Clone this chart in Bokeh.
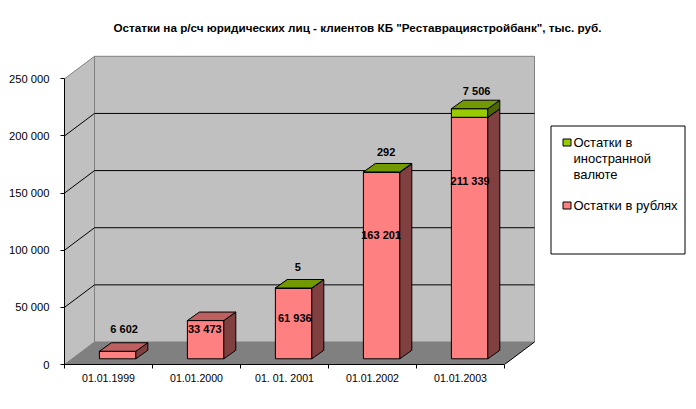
from bokeh.plotting import figure
from bokeh.models import Range1d, FixedTicker, BoxAnnotation, Label
from bokeh.core.properties import value
from bokeh.embed import file_html
from bokeh.resources import INLINE

title = 'Остатки на р/сч юридических лиц - клиентов КБ "Реставрациястройбанк", тыс. руб.'
categories = ["01.01.1999", "01.01.2000", "01. 01. 2001", "01.01.2002", "01.01.2003"]
rub = [6602, 33473, 61936, 163201, 211339]
fx = [0, 0, 5, 292, 7506]
rub_labels = ["6 602", "33 473", "61 936", "163 201", "211 339"]
fx_labels = ["", "", "5", "292", "7 506"]
y_ticks = [0, 50000, 100000, 150000, 200000, 250000]
y_tick_labels = ["0", "50 000", "100 000", "150 000", "200 000", "250 000"]
fx_name_lines = ["Остатки в", "иностранной", "валюте"]
rub_name = "Остатки в рублях"

# projection constants (pixel geometry of the oblique view)
PX_X = 88.0
PX_Y = 57.14 / 50000
WALL_DX, WALL_DY = 30 / PX_X, 22.5 / PX_Y
BAR_DX, BAR_DY = 12 / PX_X, 8.5 / PX_Y
BAR_X0, BAR_W = 34.9 / PX_X, 36.4 / PX_X
BAR_BASE = 5.7 / PX_Y
FONT = "Liberation Sans"

# pixel offsets of the hand-placed data labels, from the bar's front-top centre
rub_off_x = [6.5, -0.8, 1.2, -0.5, 0.5]
rub_off_y = [-21.8, 8, 29.5, 63, 64]
fx_off_x = [0, 0, 4.2, 4.5, 7]
fx_off_y = [0, 0, -21.5, -19.5, -18]

W, H = 690, 405
LEFT, TOP, BOTTOM = 64, 50, 41
frame_w, frame_h = W - LEFT, H - TOP - BOTTOM

p = figure(width=W, height=H, output_backend="svg", toolbar_location=None,
           x_range=Range1d(0, frame_w / PX_X), y_range=Range1d(0, frame_h / PX_Y),
           min_border_left=LEFT, min_border_right=0, min_border_top=TOP, min_border_bottom=BOTTOM,
           title=title)
p.outline_line_color = None
p.background_fill_color = "white"
p.border_fill_color = "white"
p.grid.visible = False
p.title.text_font = FONT
p.title.text_font_size = "11.7px"
p.title.text_font_style = "bold"
p.title.text_color = "black"
p.title.align = "left"
p.title.offset = 49
p.title.standoff = 33

N = len(categories)
TOPV = y_ticks[-1]
# walls and floor
p.patch([0, WALL_DX, WALL_DX, 0], [0, WALL_DY, TOPV + WALL_DY, TOPV], fill_color="#C0C0C0", line_color="#808080")
p.patch([WALL_DX, N + WALL_DX, N + WALL_DX, WALL_DX], [WALL_DY, WALL_DY, TOPV + WALL_DY, TOPV + WALL_DY],
        fill_color="#C0C0C0", line_color="#808080")
p.patch([0, N, N + WALL_DX, WALL_DX], [0, 0, WALL_DY, WALL_DY], fill_color="#808080", line_color=None)
p.line([N, N + WALL_DX], [0, WALL_DY], line_color="black")
# gridlines
gx, gy = [], []
for t in y_ticks[1:-1]:
    gx.append([0, WALL_DX, N + WALL_DX])
    gy.append([t, t + WALL_DY, t + WALL_DY])
p.multi_line(gx, gy, line_color="black", line_width=1)


def faces(i, v0, v1):
    x0 = i + BAR_X0
    x1 = x0 + BAR_W
    y0, y1 = BAR_BASE + v0, BAR_BASE + v1
    front = ([x0, x1, x1, x0], [y0, y0, y1, y1])
    side = ([x1, x1 + BAR_DX, x1 + BAR_DX, x1], [y0, y0 + BAR_DY, y1 + BAR_DY, y1])
    top = ([x0, x1, x1 + BAR_DX, x0 + BAR_DX], [y1, y1, y1 + BAR_DY, y1 + BAR_DY])
    return front, side, top


def draw(front_col, top_col, side_col, segs):
    fr = [faces(*s) for s in segs]
    p.patches([f[0][0] for f in fr], [f[0][1] for f in fr], fill_color=front_col, line_color="black")
    p.patches([f[1][0] for f in fr], [f[1][1] for f in fr], fill_color=side_col, line_color="black")
    p.patches([f[2][0] for f in fr], [f[2][1] for f in fr], fill_color=top_col, line_color="black")


draw("#FF8080", "#BF6060", "#804040", [(i, 0, rub[i]) for i in range(N)])
draw("#99CC00", "#739900", "#4D6600", [(i, rub[i], rub[i] + fx[i]) for i in range(N) if fx[i] > 0])

# data labels
cx = [i + BAR_X0 + BAR_W / 2 for i in range(N)]
p.text(cx, [BAR_BASE + v for v in rub], text=rub_labels,
       x_offset=rub_off_x, y_offset=rub_off_y,
       text_font=value(FONT), text_font_size="11px", text_font_style="bold", text_color="black",
       text_align="center", text_baseline="middle")
idx = [i for i in range(N) if fx[i] > 0]
p.text([cx[i] for i in idx], [BAR_BASE + rub[i] + fx[i] for i in idx], text=[fx_labels[i] for i in idx],
       x_offset=[fx_off_x[i] for i in idx], y_offset=[fx_off_y[i] for i in idx],
       text_font=value(FONT), text_font_size="11px", text_font_style="bold", text_color="black",
       text_align="center", text_baseline="middle")

# axes
ya = p.yaxis[0]
ya.ticker = FixedTicker(ticks=y_ticks)
ya.major_label_overrides = dict(zip(y_ticks, y_tick_labels))
ya.bounds = (0, TOPV)
ya.axis_line_color = "black"
ya.major_tick_line_color = "black"
ya.major_tick_in = 0
ya.major_tick_out = 4
ya.minor_tick_line_color = None
ya.major_label_text_font = FONT
ya.major_label_text_font_size = "11.2px"
ya.major_label_text_color = "black"
ya.major_label_standoff = 11

xa = p.xaxis[0]
centers = [i + 0.5 for i in range(N)]
xa.ticker = FixedTicker(ticks=centers, minor_ticks=list(range(N + 1)))
xa.major_label_overrides = dict(zip(centers, categories))
xa.bounds = (0, N)
xa.axis_line_color = "black"
xa.major_tick_line_color = None
xa.major_tick_in = 0
xa.major_tick_out = 0
xa.minor_tick_line_color = "black"
xa.minor_tick_in = 0
xa.minor_tick_out = 4
xa.major_label_text_font = FONT
xa.major_label_text_font_size = "10.6px"
xa.major_label_text_color = "black"
xa.major_label_standoff = 3


def canvas_box(l, r, t, b, fill):
    p.add_layout(BoxAnnotation(left=l, right=r, top=t, bottom=b,
                               left_units="canvas", right_units="canvas", top_units="canvas", bottom_units="canvas",
                               fill_color=fill, fill_alpha=1, line_color="black", line_width=1, line_alpha=1))


def canvas_text(x, y, s):
    p.add_layout(Label(x=x, y=y, x_units="canvas", y_units="canvas", text=s, text_font=FONT, text_font_size="13px",
                       text_color="black", text_baseline="middle", text_align="left"))


# legend
canvas_box(550.5, 684.5, 125.5, 253.5, "white")
canvas_box(562.5, 570.5, 138.5, 145.5, "#99CC00")
canvas_box(562.5, 570.5, 201.5, 208.5, "#FF8080")
for line, y in zip(fx_name_lines, (141.7, 157.7, 173.7)):
    canvas_text(573, y, line)
canvas_text(573, 204.7, rub_name)

open("out.html", "w").write(file_html(p, INLINE))
